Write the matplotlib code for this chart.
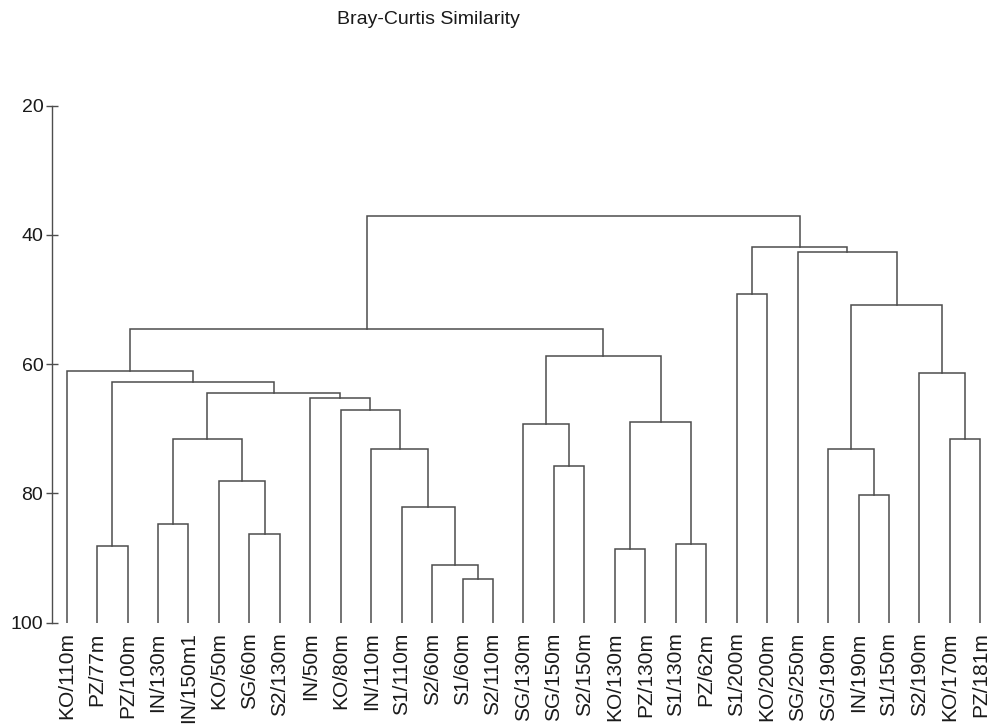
#!/usr/bin/env python3
"""Bray-Curtis similarity dendrogram of the sampling stations.

Output:
    out.png
"""

import matplotlib
matplotlib.use("Agg")
import matplotlib.pyplot as plt

# ---------------------------------------------------------------------------
# Data: leaf order (left to right) and merges, scipy-linkage style.
# Node ids < len(LEAVES) are leaves, merge k gets id len(LEAVES) + k.
# ---------------------------------------------------------------------------
LEAVES = [
    "KO/110m", "PZ/77m", "PZ/100m", "IN/130m", "IN/150m1", "KO/50m",
    "SG/60m", "S2/130m", "IN/50m", "KO/80m", "IN/110m", "S1/110m",
    "S2/60m", "S1/60m", "S2/110m", "SG/130m", "SG/150m", "S2/150m",
    "KO/130m", "PZ/130m", "S1/130m", "PZ/62m", "S1/200m", "KO/200m",
    "SG/250m", "SG/190m", "IN/190m", "S1/150m", "S2/190m", "KO/170m",
    "PZ/181m",
]

MERGE_LEFT = [13, 12, 11, 10, 9, 8, 6, 5, 3, 39, 40, 1, 42, 0,
              16, 15, 18, 20, 47, 46, 44, 22, 26, 25, 29, 28, 54, 24, 52, 51]
MERGE_RIGHT = [14, 31, 32, 33, 34, 35, 7, 37, 4, 38, 36, 2, 41, 43,
               17, 45, 19, 21, 48, 49, 50, 23, 27, 53, 30, 55, 56, 57, 58, 59]
SIMILARITY = [93.3, 91.1, 82.1, 73.1, 67.1, 65.2, 86.3, 78.0, 84.7, 71.6,
              64.5, 88.2, 62.7, 61.05, 75.75, 69.3, 88.55, 87.9, 69.0, 58.7,
              54.6, 49.2, 80.2, 73.1, 71.6, 61.3, 50.8, 42.7, 41.8, 37.07]

Y_TICKS = [20, 40, 60, 80, 100]

LINE_COLOR = "#4d4d4d"
TEXT_COLOR = "#1a1a1a"
FONT = ["Liberation Sans", "DejaVu Sans"]


def main() -> None:
    plt.rcParams["font.family"] = FONT

    fig = plt.figure(figsize=(9.9, 7.26), dpi=100)
    fig.patch.set_facecolor("white")
    ax = fig.add_axes([0.0522, 0.1423, 0.9473, 0.7121])

    n = len(LEAVES)
    node_x = {i: float(i) for i in range(n)}
    node_y = {i: 100.0 for i in range(n)}

    for k, (a, b, h) in enumerate(zip(MERGE_LEFT, MERGE_RIGHT, SIMILARITY)):
        xa, xb = node_x[a], node_x[b]
        ya, yb = node_y[a], node_y[b]
        ax.plot([xa, xa, xb, xb], [ya, h, h, yb],
                color=LINE_COLOR, lw=1.1, solid_joinstyle="miter")
        node_x[n + k] = (xa + xb) / 2
        node_y[n + k] = h

    # ── Axes styling ─────────────────────────────────────────────────────
    ax.set_xlim(-0.49, 30.3)
    ax.set_ylim(100, 20)
    for side in ("top", "right", "bottom"):
        ax.spines[side].set_visible(False)
    ax.spines["left"].set_color(LINE_COLOR)
    ax.spines["left"].set_linewidth(1.0)

    ax.set_yticks(Y_TICKS)
    ax.tick_params(axis="y", direction="inout", length=8, width=1.0,
                   color=LINE_COLOR, pad=2, labelsize=14, labelcolor=TEXT_COLOR)

    ax.set_xticks(range(n))
    ax.set_xticklabels(LEAVES, rotation=90, ha="center", va="top")
    ax.tick_params(axis="x", length=0, pad=7, labelsize=15,
                   labelcolor=TEXT_COLOR)

    fig.text(0.4325, 0.9725, "Bray-Curtis Similarity", ha="center",
             va="center", fontsize=14, color=TEXT_COLOR)

    fig.savefig("out.png", dpi=100, facecolor=fig.get_facecolor())
    plt.close(fig)


if __name__ == "__main__":
    main()
